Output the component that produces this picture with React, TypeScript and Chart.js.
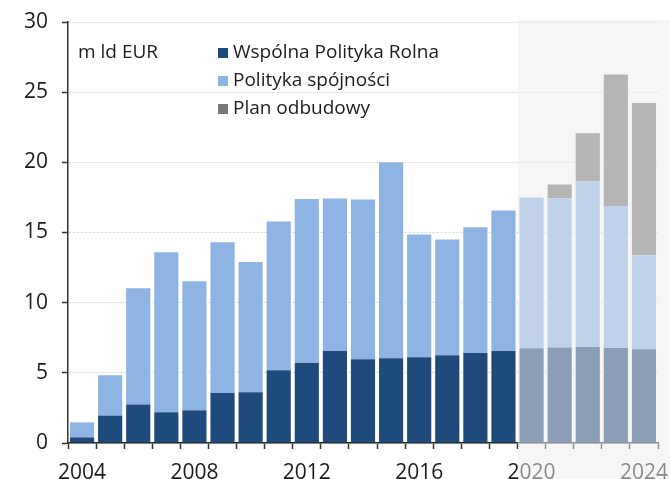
import React, { useEffect, useRef } from 'react';
import { Chart, registerables } from 'chart.js';

Chart.register(...registerables);

const years = ['2004', '2005', '2006', '2007', '2008', '2009', '2010', '2011', '2012', '2013', '2014', '2015', '2016', '2017', '2018', '2019', '2020', '2021', '2022', '2023', '2024'];
const agriValues = [0.4, 1.95, 2.74, 2.19, 2.33, 3.56, 3.61, 5.18, 5.7, 6.56, 5.97, 6.04, 6.11, 6.25, 6.42, 6.56, 6.75, 6.8, 6.84, 6.77, 6.68];
const cohesionValues = [1.07, 2.88, 8.29, 11.41, 9.19, 10.74, 9.29, 10.6, 11.69, 10.86, 11.38, 13.96, 8.74, 8.25, 8.95, 10.0, 10.74, 10.64, 11.81, 10.12, 6.7];
const recoveryValues = [0, 0, 0, 0, 0, 0, 0, 0, 0, 0, 0, 0, 0, 0, 0, 0, 0, 0.98, 3.42, 9.37, 10.85];
const seriesNames = ['Wspólna Polityka Rolna', 'Polityka spójności', 'Plan odbudowy'];
const unitLabel = 'm ld EUR';
const forecastStart = '2020';
const yMin = 0;
const yMax = 30;
const yStep = 5;
const xLabelEvery = 4;

const seriesColors = ['#1f4a7c', '#8eb4e3', '#777777'];
const textColor = '#1c1c1c';

const overlayPlugin = {
  id: 'forecastOverlay',
  afterDraw(chart: any) {
    const { ctx, chartArea, scales } = chart;
    const x = scales.x;
    const idx = years.indexOf(forecastStart);
    const step = x.getPixelForValue(1) - x.getPixelForValue(0);
    const xs = Math.round(x.getPixelForValue(idx) - step / 2);
    ctx.save();
    ctx.fillStyle = 'rgba(238,238,238,0.52)';
    ctx.fillRect(xs, chartArea.top - 2, chart.width - xs, chart.height);
    ctx.restore();
  },
};

const legendPlugin = {
  id: 'customLegend',
  afterDraw(chart: any) {
    const { ctx, chartArea } = chart;
    ctx.save();
    ctx.font = '19px "Open Sans", sans-serif';
    ctx.fillStyle = textColor;
    ctx.textBaseline = 'middle';
    ctx.textAlign = 'left';
    ctx.fillText(unitLabel, chartArea.left + 10, chartArea.top + 31);
    chart.data.datasets.forEach((ds: any, i: number) => {
      const cy = chartArea.top + 31 + i * 28;
      ctx.fillStyle = ds.backgroundColor;
      ctx.fillRect(chartArea.left + 150, cy - 5, 10, 10);
      ctx.fillStyle = textColor;
      ctx.fillText(ds.label, chartArea.left + 165, cy);
    });
    ctx.restore();
  },
};

export default function App() {
  const canvasRef = useRef<HTMLCanvasElement | null>(null);

  useEffect(() => {
    if (!canvasRef.current) return;
    const datasetValues = [agriValues, cohesionValues, recoveryValues];
    const chart = new Chart(canvasRef.current, {
      type: 'bar',
      data: {
        labels: years,
        datasets: datasetValues.map((vals, i) => ({
          label: seriesNames[i],
          data: vals,
          backgroundColor: seriesColors[i],
          borderWidth: 0,
          barPercentage: 0.86,
          categoryPercentage: 1,
        })),
      },
      options: {
        responsive: false,
        animation: false,
        layout: { autoPadding: false, padding: { top: 22, right: 12, left: 0, bottom: 0 } },
        plugins: {
          legend: { display: false },
          tooltip: { enabled: false },
          title: { display: false },
        },
        scales: {
          x: {
            stacked: true,
            offset: true,
            grid: {
              offset: true,
              drawOnChartArea: false,
              drawTicks: true,
              tickLength: 6,
              tickColor: '#333',
              tickWidth: 1.5,
            },
            border: { display: true, color: '#222', width: 1.5 },
            ticks: {
              autoSkip: false,
              maxRotation: 0,
              minRotation: 0,
              padding: 0,
              color: textColor,
              font: { family: '"Open Sans", sans-serif', size: 21, lineHeight: 2.25 },
              callback: (_v: any, i: number) => (i % xLabelEvery === 0 ? years[i] : ''),
            },
            afterFit: (s: any) => {
              s.height = 36;
            },
          },
          y: {
            stacked: true,
            min: yMin,
            max: yMax,
            ticks: {
              stepSize: yStep,
              padding: 14,
              color: textColor,
              font: { family: '"Open Sans", sans-serif', size: 21, lineHeight: 0.5 },
            },
            grid: {
              color: '#d6d6d6',
              drawTicks: true,
              tickLength: 6,
              tickColor: '#333',
              tickWidth: 1.5,
            },
            border: { display: true, color: '#333', width: 1.5, dash: [2, 2] },
            afterFit: (s: any) => {
              s.width = 68;
            },
          },
        },
      },
      plugins: [overlayPlugin, legendPlugin],
    } as any);
    return () => chart.destroy();
  }, []);

  return (
    <div style={{ position: 'absolute', left: 0, top: 0, width: 670, height: 479, background: '#fff' }}>
      <canvas ref={canvasRef} width={670} height={479} style={{ display: 'block' }} />
    </div>
  );
}
